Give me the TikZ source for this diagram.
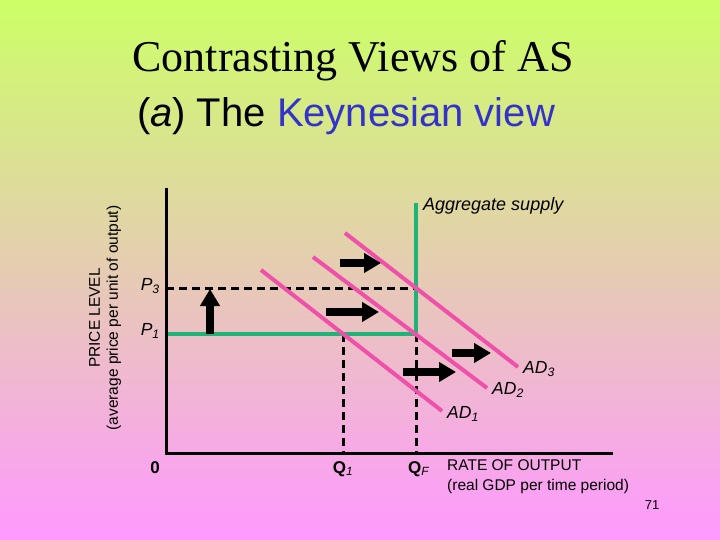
\documentclass[tikz,border=0pt]{standalone}
\usepackage{fontspec}
\setmainfont{Liberation Sans}
\newfontfamily\titlefont{Liberation Serif}
\usepackage{xcolor}
\usetikzlibrary{arrows.meta,positioning}

\definecolor{bgtop}{RGB}{204,255,102}
\definecolor{bgbot}{RGB}{255,153,255}
\definecolor{asgreen}{RGB}{30,180,120}
\definecolor{adpink}{RGB}{238,80,170}
\definecolor{keyblue}{RGB}{51,51,204}

\begin{document}
\begin{tikzpicture}[x=1pt,y=-1pt,
    axis/.style={line width=3pt},
    asline/.style={draw=asgreen, line width=4pt},
    adline/.style={draw=adpink, line width=4pt},
    guide/.style={line width=3pt, dash pattern=on 8pt off 5pt},
    shiftarrow/.style={line width=8pt, -{Triangle[length=17pt,width=19pt]}},
    lbl/.style={font=\fontsize{17.5}{20}\selectfont\itshape, inner sep=0pt},
    ticklbl/.style={font=\fontsize{17}{19}\selectfont\bfseries, inner sep=0pt},
  ]
  \useasboundingbox (0,0) rectangle (720,540);
  \shade[top color=bgtop, bottom color=bgbot] (0,0) rectangle (720,540);

  \node[font=\titlefont\fontsize{44}{48}\selectfont, anchor=base] (title) at (353,72) {Contrasting Views of AS};
  \node[font=\fontsize{40}{44}\selectfont, anchor=base] (subtitle) at (346,127) {(\textit{a}) The \textcolor{keyblue}{Keynesian view}};

  % axes
  \coordinate (O) at (166,453);
  \coordinate (ytop) at (166,188);
  \coordinate (xend) at (613,453);
  \coordinate (p1y) at (166,334);
  \coordinate (p3y) at (166,288);
  \coordinate (E1) at (416,334);
  \coordinate (E3) at (416,288);
  \coordinate (AStop) at (416,203);
  \coordinate (Q1top) at (343,334);
  \coordinate (Q1) at (343,453);
  \coordinate (QF) at (416,453);

  \draw[guide] (p3y) -- (E3);
  \draw[guide] (Q1top) -- (Q1);
  \draw[guide] (E1) -- (QF);
  \draw[asline] (p1y) -- (E1) -- (AStop);

  \coordinate (ad1a) at (261,270);
  \coordinate (ad1b) at (442,411);
  \coordinate (ad2a) at (313,257);
  \coordinate (ad2b) at (487,388);
  \coordinate (ad3a) at (345,233);
  \coordinate (ad3b) at (518,367);
  \draw[adline] (ad1a) -- (ad1b);
  \draw[adline] (ad2a) -- (ad2b);
  \draw[adline] (ad3a) -- (ad3b);

  \draw[axis] (ytop) -- (O) -- (xend);

  % shifts
  \coordinate (up0) at (210,334);
  \coordinate (up1) at (210,289);
  \draw[shiftarrow] (up0) -- (up1);
  \coordinate (s1a) at (340,263);
  \coordinate (s1b) at (381,263);
  \coordinate (s2a) at (326,312);
  \coordinate (s2b) at (379,312);
  \coordinate (s3a) at (403,372);
  \coordinate (s3b) at (456,372);
  \coordinate (s4a) at (452,353);
  \coordinate (s4b) at (491,353);
  \draw[shiftarrow] (s1a) -- (s1b);
  \draw[shiftarrow] (s2a) -- (s2b);
  \draw[shiftarrow] (s3a) -- (s3b);
  \draw[shiftarrow] (s4a) -- (s4b);

  % labels
  \node[lbl, font=\fontsize{18}{20}\selectfont\itshape, anchor=west, right=7pt of AStop, yshift=-3pt] (aslbl) {Aggregate supply};
  \node[lbl, anchor=west, right=5pt of ad1b, yshift=-3pt] (ad1lbl) {AD\textsubscript{1}};
  \node[lbl, anchor=west, right=5pt of ad2b, yshift=-2pt] (ad2lbl) {AD\textsubscript{2}};
  \node[lbl, anchor=west, right=5pt of ad3b, yshift=-2pt] (ad3lbl) {AD\textsubscript{3}};
  \node[lbl, anchor=east, left=6pt of p3y, yshift=2pt] (p3lbl) {P\textsubscript{3}};
  \node[lbl, anchor=east, left=6pt of p1y, yshift=3pt] (p1lbl) {P\textsubscript{1}};
  \node[ticklbl, below=8pt of O, xshift=-11pt] (zero) {0};
  \node[ticklbl, below=8pt of Q1] (q1lbl) {Q\textsubscript{\textit{\mdseries 1}}};
  \node[ticklbl, below=8pt of QF, xshift=3pt] (qflbl) {Q\textsubscript{\textit{\mdseries F}}};
  \node[font=\fontsize{15.5}{20}\selectfont, align=left, anchor=north west, inner sep=0pt] (xlbl) at (447,459) {RATE OF OUTPUT\\(real GDP per time period)};
  \node[font=\fontsize{15.5}{18}\selectfont, align=center, rotate=90, inner sep=0pt] (ylbl) at (105,318) {PRICE LEVEL\\(average price per unit of output)};
  \node[font=\fontsize{13}{15}\selectfont, inner sep=0pt] (pagenum) at (652,505) {71};
\end{tikzpicture}
\end{document}
